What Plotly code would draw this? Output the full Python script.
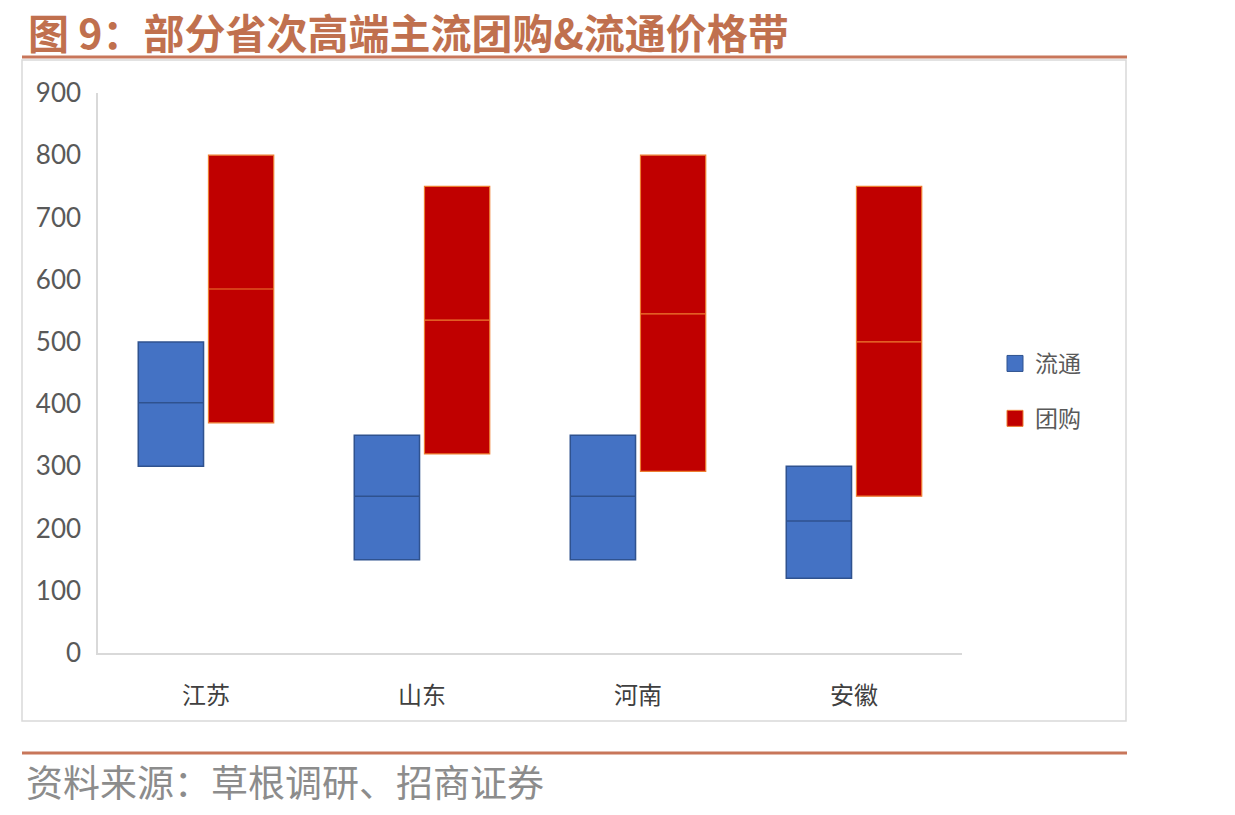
import plotly.graph_objects as go

categories = ["江苏", "山东", "河南", "安徽"]

# 流通 price band (low, mid, high)
liutong_low = [300, 150, 150, 120]
liutong_mid = [402, 252, 252, 212]
liutong_high = [500, 350, 350, 300]

# 团购 price band (low, mid, high)
tuangou_low = [370, 320, 292, 252]
tuangou_mid = [585, 535, 545, 500]
tuangou_high = [800, 750, 800, 750]

y_ticks = [0, 100, 200, 300, 400, 500, 600, 700, 800, 900]

title_text = "图 9：部分省次高端主流团购&流通价格带"
source_text = "资料来源：草根调研、招商证券"

blue_fill, blue_line = "#4472C4", "#2F528F"
red_fill, red_line = "#C00000", "#ED7D31"

fig = go.Figure()
fig.add_trace(go.Box(
    x=categories, q1=liutong_low, median=liutong_mid, q3=liutong_high,
    lowerfence=liutong_low, upperfence=liutong_high,
    name="流通", fillcolor=blue_fill, line=dict(color=blue_line, width=1.5),
    whiskerwidth=0, boxpoints=False, hoverinfo="skip", legendgroup="a", showlegend=False,
))
fig.add_trace(go.Box(
    x=categories, q1=tuangou_low, median=tuangou_mid, q3=tuangou_high,
    lowerfence=tuangou_low, upperfence=tuangou_high,
    name="团购", fillcolor=red_fill, line=dict(color=red_line, width=1.2),
    whiskerwidth=0, boxpoints=False, hoverinfo="skip", legendgroup="b", showlegend=False,
))
# legend-only entries (larger square swatches)
fig.add_trace(go.Scatter(
    x=[None], y=[None], mode="markers", name="流通", legendgroup="a",
    marker=dict(symbol="square", size=22, color=blue_fill, line=dict(color=blue_line, width=1)),
    hoverinfo="skip",
))
fig.add_trace(go.Scatter(
    x=[None], y=[None], mode="markers", name="团购", legendgroup="b",
    marker=dict(symbol="square", size=22, color=red_fill, line=dict(color=red_line, width=1)),
    hoverinfo="skip",
))

W, H = 1235, 815
L, R, T, B = 98, 962, 93, 653
pw, ph = R - L, B - T

def px(x):
    return (x - L) / pw

def py(y):
    return (B - y) / ph

accent = "#C8765A"

shapes = [
    # chart frame
    dict(type="rect", xref="paper", yref="paper", x0=px(22), x1=px(1126), y0=py(721), y1=py(60),
         line=dict(color="#D9D9D9", width=1.5), fillcolor="rgba(0,0,0,0)", layer="below"),
    # top accent line
    dict(type="line", xref="paper", yref="paper", x0=px(22), x1=px(1127), y0=py(57), y1=py(57),
         line=dict(color=accent, width=3)),
    # bottom accent line
    dict(type="line", xref="paper", yref="paper", x0=px(22), x1=px(1127), y0=py(753), y1=py(753),
         line=dict(color=accent, width=3)),
]

annotations = [
    dict(text=title_text, xref="paper", yref="paper", x=px(26), y=py(31), xanchor="left", yanchor="middle",
         showarrow=False, font=dict(family="Noto Sans CJK SC", size=41, color="#C0704E", weight="bold")),
    dict(text=source_text, xref="paper", yref="paper", x=px(24), y=py(781), xanchor="left", yanchor="middle",
         showarrow=False, font=dict(family="Noto Sans CJK SC", size=37, color="#8C8C8C")),
]

fig.update_layout(
    width=W, height=H,
    margin=dict(l=L, r=W - R, t=T, b=H - B, pad=0),
    paper_bgcolor="white", plot_bgcolor="white",
    boxmode="group", boxgap=0.35, boxgroupgap=0.07,
    showlegend=True,
    legend=dict(x=px(995), y=py(391), xanchor="left", yanchor="middle",
                font=dict(family="Noto Sans CJK SC", size=23, color="#595959"),
                tracegroupgap=22, traceorder="grouped", bgcolor="rgba(0,0,0,0)"),
    xaxis=dict(type="category", range=[-0.5, 3.5], showgrid=False, showline=True,
               linecolor="#D9D9D9", linewidth=1.5, ticks="", ticklabelstandoff=20,
               tickfont=dict(family="Noto Sans CJK SC", size=24, color="#404040"), zeroline=False),
    yaxis=dict(range=[0, 900], tickvals=y_ticks, showgrid=False, showline=True,
               linecolor="#D9D9D9", linewidth=1.5, ticks="", ticklabelstandoff=10,
               tickfont=dict(family="Lato", size=26, color="#595959"), zeroline=False),
    shapes=shapes,
    annotations=annotations,
)

fig.write_html("out.html")
